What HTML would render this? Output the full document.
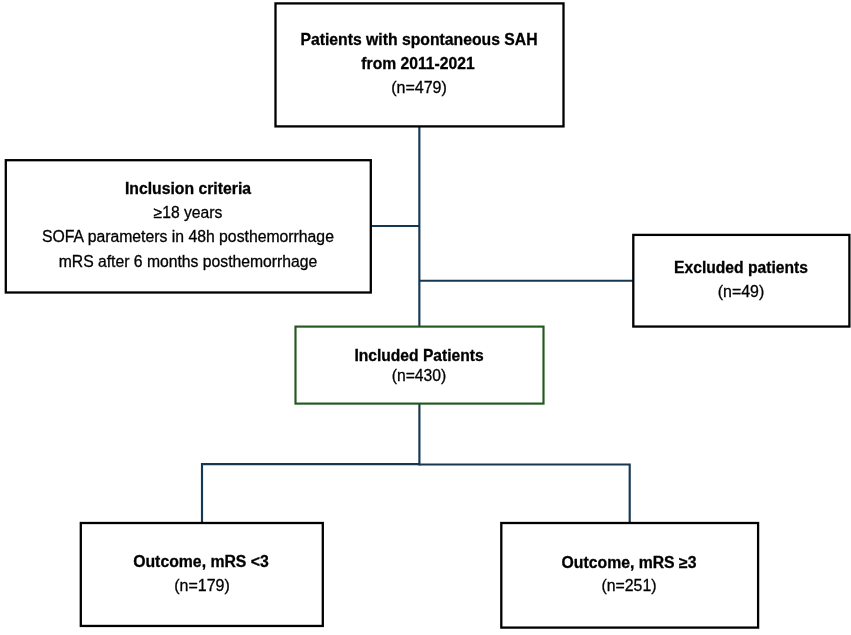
<!DOCTYPE html>
<html lang="en">
<head>
<meta charset="utf-8">
<title>Patient flow chart</title>
<style>
  html, body { margin: 0; padding: 0; background: #fff; }
  body { width: 851px; height: 635px; position: relative; overflow: hidden;
         font-family: "Liberation Sans", sans-serif; font-size: 15.85px; color: #000; }
  svg.shapes { position: absolute; left: 0; top: 0; width: 851px; height: 635px; display: block; }
  .t { position: absolute; display: block; margin: 0; line-height: 20px; white-space: nowrap;
       transform: translateX(-50%); will-change: transform; font-weight: normal; -webkit-text-stroke: 0.3px #000; }
  strong.t { font-weight: bold; }
</style>
</head>
<body>
  <svg class="shapes" width="851" height="635" viewBox="0 0 851 635">
    <!-- connectors -->
    <g fill="none" stroke="#163852" stroke-width="2.15">
      <path d="M419.35 126.4 V326.6"/>
      <path d="M419.4 403.6 V465.5"/>
      <path d="M370.8 226 H419.3"/>
      <path d="M419.3 280.7 H633.3"/>
      <path d="M202 523 V464.1 H419.4"/>
      <path d="M419.4 464.5 H629.7 V523"/>
    </g>
    <!-- boxes -->
    <g fill="none" stroke="#000" stroke-width="2.3">
      <rect x="275.5" y="3.4" width="288" height="123"/>
      <rect x="5.8" y="160.2" width="365" height="132.3"/>
      <rect x="633.3" y="234.9" width="216.1" height="91.65"/>
      <rect x="80.8" y="523" width="242" height="102.95"/>
      <rect x="501.3" y="523" width="256.8" height="104.6"/>
    </g>
    <rect x="295.5" y="326.6" width="248" height="77" fill="none" stroke="#22591d" stroke-width="2.15"/>
  </svg>

  <div class="node top">
    <strong class="t" style="left:419.00px; top:30px; font-size:15.75px;">Patients with spontaneous SAH</strong>
    <strong class="t" style="left:418.10px; top:54px; font-size:15.68px;">from 2011-2021</strong>
    <span class="t" style="left:418.50px; top:77px; font-size:16.05px;">(n=479)</span>
  </div>
  <div class="node criteria">
    <strong class="t" style="left:187.90px; top:179px; font-size:15.75px;">Inclusion criteria</strong>
    <span class="t" style="left:188.10px; top:203px; font-size:15.7px;">≥18 years</span>
    <span class="t" style="left:187.80px; top:227px; font-size:15.78px;">SOFA parameters in 48h posthemorrhage</span>
    <span class="t" style="left:187.70px; top:252px; font-size:15.72px;">mRS after 6 months posthemorrhage</span>
  </div>
  <div class="node excluded">
    <strong class="t" style="left:740.85px; top:258px; font-size:15.65px;">Excluded patients</strong>
    <span class="t" style="left:741.25px; top:282px; font-size:15.95px;">(n=49)</span>
  </div>
  <div class="node included">
    <strong class="t" style="left:419.20px; top:346px; font-size:15.62px;">Included Patients</strong>
    <span class="t" style="left:419.20px; top:366px; font-size:15.7px;">(n=430)</span>
  </div>
  <div class="node outcome-low">
    <strong class="t" style="left:201.10px; top:552px; font-size:15.8px;">Outcome, mRS &lt;3</strong>
    <span class="t" style="left:201.50px; top:576px; font-size:16.0px;">(n=179)</span>
  </div>
  <div class="node outcome-high">
    <strong class="t" style="left:628.60px; top:553px; font-size:15.78px;">Outcome, mRS ≥3</strong>
    <span class="t" style="left:629.20px; top:576px; font-size:15.85px;">(n=251)</span>
  </div>
</body>
</html>
